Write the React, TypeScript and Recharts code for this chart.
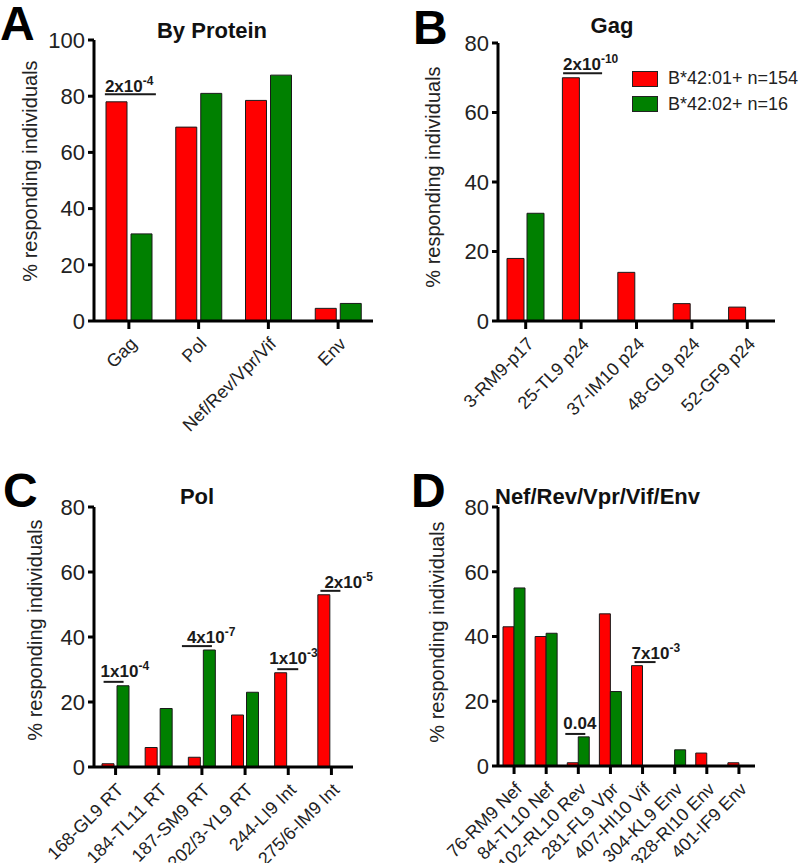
import { Bar, BarChart, Legend, ReferenceDot, XAxis, YAxis } from "recharts";

const FONT = '"Liberation Sans", Arial, Helvetica, sans-serif';
const RED = "#ff0000";
const GREEN = "#008000";
const INK = "#1a1a1a";

const SERIES_01 = "B*42:01+ n=154";
const SERIES_02 = "B*42:02+ n=16";

// A: by protein
const proteinCats = ["Gag", "Pol", "Nef/Rev/Vpr/Vif", "Env"];
const proteinB4201 = [78, 69, 78.5, 4.5];
const proteinB4202 = [31, 81, 87.5, 6.25];

// B: Gag epitopes
const gagCats = ["3-RM9-p17", "25-TL9 p24", "37-IM10 p24", "48-GL9 p24", "52-GF9 p24"];
const gagB4201 = [18, 70, 14, 5, 4];
const gagB4202 = [31, 0, 0, 0, 0];

// C: Pol epitopes
const polCats = ["168-GL9 RT", "184-TL11 RT", "187-SM9 RT", "202/3-YL9 RT", "244-LI9 Int", "275/6-IM9 Int"];
const polB4201 = [1, 6, 3, 16, 29, 53];
const polB4202 = [25, 18, 36, 23, 0, 0];

// D: accessory + Env epitopes
const accCats = [
	"76-RM9 Nef",
	"84-TL10 Nef",
	"102-RL10 Rev",
	"281-FL9 Vpr",
	"407-HI10 Vif",
	"304-KL9 Env",
	"328-RI10 Env",
	"401-IF9 Env",
];
const accB4201 = [43, 40, 1, 47, 31, 0, 4, 1];
const accB4202 = [55, 41, 9, 23, 0, 5, 0, 0];

const ticks100 = [0, 20, 40, 60, 80, 100];
const ticks80 = [0, 20, 40, 60, 80];

interface PValue {
	cat: string;
	y: number;
	text: string;
	exp?: string;
	x0: number;
	x1: number;
	tx: number;
	dy: number;
}

const pProtein: PValue[] = [{ cat: "Gag", y: 80.7, text: "2x10", exp: "-4", x0: -24, x1: 27, tx: -24, dy: 2 }];
const pGag: PValue[] = [{ cat: "25-TL9 p24", y: 71.3, text: "2x10", exp: "-10", x0: -18, x1: 21, tx: -18, dy: 3 }];
const pPol: PValue[] = [
	{ cat: "168-GL9 RT", y: 26.2, text: "1x10", exp: "-4", x0: -12, x1: 8, tx: -15, dy: 5 },
	{ cat: "187-SM9 RT", y: 37.2, text: "4x10", exp: "-7", x0: -20, x1: 10, tx: -15, dy: 3 },
	{ cat: "244-LI9 Int", y: 30.1, text: "1x10", exp: "-3", x0: -11, x1: 10, tx: -19, dy: 5 },
	{ cat: "275/6-IM9 Int", y: 54.2, text: "2x10", exp: "-5", x0: -11, x1: 9, tx: -7, dy: 3 },
];
const pAcc: PValue[] = [
	{ cat: "102-RL10 Rev", y: 9.9, text: "0.04", x0: -13, x1: 7, tx: -15, dy: 5 },
	{ cat: "407-HI10 Vif", y: 32.1, text: "7x10", exp: "-3", x0: -8, x1: 13, tx: -11, dy: 3 },
];

const toRows = (cats: string[], a: number[], b: number[]) =>
	cats.map((name, i) => ({ name, b01: a[i], b02: b[i] }));

function PMark({ cx, cy, p }: { cx: number; cy: number; p: PValue }) {
	return (
		<g>
			<line x1={cx + p.x0} x2={cx + p.x1} y1={cy} y2={cy} stroke={INK} strokeWidth={2} />
			<text x={cx + p.tx} y={cy - p.dy} fontFamily={FONT} fontWeight="bold" fontSize={17} fill={INK}>
				{p.text}
				{p.exp && (
					<tspan fontSize={12} dy={-7}>
						{p.exp}
					</tspan>
				)}
			</text>
		</g>
	);
}

function LegendBox({ payload }: { payload?: any[] }) {
	return (
		<div style={{ fontFamily: FONT, fontSize: 18, color: "#222" }}>
			{(payload ?? []).map((e) => (
				<div key={e.value} style={{ display: "flex", alignItems: "center", height: 25.5, whiteSpace: "nowrap" }}>
					<span
						style={{
							display: "inline-block",
							width: 26,
							height: 16,
							background: e.color,
							border: "1px solid #222",
							boxSizing: "border-box",
							marginRight: 10,
							flexShrink: 0,
						}}
					/>
					{e.value}
				</div>
			))}
		</div>
	);
}

interface PanelProps {
	rows: { name: string; b01: number; b02: number }[];
	width: number;
	height: number;
	top: number;
	right: number;
	yWidth: number;
	xHeight: number;
	max: number;
	ticks: number[];
	barSize: number;
	barGap: number;
	pvalues: PValue[];
	legend?: boolean;
}

function Panel(props: PanelProps) {
	const axisStyle = { stroke: "#000", strokeWidth: 3 };
	return (
		<BarChart
			width={props.width}
			height={props.height}
			data={props.rows}
			margin={{ top: props.top, right: props.right, left: 0, bottom: 0 }}
			barSize={props.barSize}
			barGap={props.barGap}
		>
			<XAxis
				dataKey="name"
				height={props.xHeight}
				interval={0}
				angle={-45}
				textAnchor="end"
				tickSize={8}
				tickMargin={7}
				axisLine={axisStyle}
				tickLine={axisStyle}
				tick={{ fontSize: 18, fill: "#222", fontFamily: FONT }}
			/>
			<YAxis
				width={props.yWidth}
				domain={[0, props.max]}
				ticks={props.ticks}
				interval={0}
				tickSize={6}
				tickMargin={3}
				axisLine={axisStyle}
				tickLine={axisStyle}
				tick={{ fontSize: 22, fill: "#222", fontFamily: FONT }}
			/>
			<Bar dataKey="b01" name={SERIES_01} fill={RED} stroke={INK} strokeWidth={1} isAnimationActive={false} />
			<Bar dataKey="b02" name={SERIES_02} fill={GREEN} stroke={INK} strokeWidth={1} isAnimationActive={false} />
			{props.pvalues.map((p) => (
				<ReferenceDot
					key={p.cat}
					x={p.cat}
					y={p.y}
					r={0}
					shape={(s: any) => <PMark cx={s.cx} cy={s.cy} p={p} />}
				/>
			))}
			{props.legend && (
				<Legend
					layout="horizontal"
					align="center"
					verticalAlign="middle"
					wrapperStyle={{ left: 232, top: 66, right: "auto", bottom: "auto", width: 240 }}
					content={(lp: any) => <LegendBox payload={lp.payload} />}
				/>
			)}
		</BarChart>
	);
}

const yLabel = "% responding individuals";

export default function App() {
	return (
		<div style={{ position: "absolute", left: 0, top: 0, width: 800, height: 863, background: "#fff", overflow: "hidden" }}>
			<style>{".recharts-surface{overflow:visible}"}</style>
			<div style={{ position: "absolute", left: 0, top: 0 }}>
				<Panel
					rows={toRows(proteinCats, proteinB4201, proteinB4202)}
					width={400}
					height={430}
					top={40}
					right={27}
					yWidth={94}
					xHeight={109}
					max={100}
					ticks={ticks100}
					barSize={21}
					barGap={4}
					pvalues={pProtein}
				/>
			</div>
			<div style={{ position: "absolute", left: 400, top: 0 }}>
				<Panel
					rows={toRows(gagCats, gagB4201, gagB4202)}
					width={400}
					height={430}
					top={43}
					right={25}
					yWidth={98}
					xHeight={109}
					max={80}
					ticks={ticks80}
					barSize={17}
					barGap={3}
					pvalues={pGag}
					legend
				/>
			</div>
			<div style={{ position: "absolute", left: 0, top: 430 }}>
				<Panel
					rows={toRows(polCats, polB4201, polB4202)}
					width={400}
					height={433}
					top={77}
					right={47}
					yWidth={94}
					xHeight={96}
					max={80}
					ticks={ticks80}
					barSize={12}
					barGap={3}
					pvalues={pPol}
				/>
			</div>
			<div style={{ position: "absolute", left: 400, top: 430 }}>
				<Panel
					rows={toRows(accCats, accB4201, accB4202)}
					width={400}
					height={433}
					top={77}
					right={45}
					yWidth={98}
					xHeight={97}
					max={80}
					ticks={ticks80}
					barSize={11}
					barGap={0}
					pvalues={pAcc}
				/>
			</div>
			<svg
				width={800}
				height={863}
				style={{ position: "absolute", left: 0, top: 0, pointerEvents: "none" }}
				fontFamily={FONT}
			>
				<g fontSize={48} fontWeight="bold" fill="#000">
					<text x={0} y={40}>A</text>
					<text x={413} y={44}>B</text>
					<text x={3} y={507}>C</text>
					<text x={411} y={507}>D</text>
				</g>
				<g fontSize={22} fontWeight="bold" fill="#111">
					<text x={212} y={38} textAnchor="middle">By Protein</text>
					<text x={612} y={33} textAnchor="middle">Gag</text>
					<text x={197} y={504} textAnchor="middle">Pol</text>
					<text x={495} y={504}>Nef/Rev/Vpr/Vif/Env</text>
				</g>
				<g fontSize={20} fill="#222" textAnchor="middle" dominantBaseline="central">
					<text x={30} y={171} transform="rotate(-90 30 171)">{yLabel}</text>
					<text x={433} y={177} transform="rotate(-90 433 177)">{yLabel}</text>
					<text x={35} y={630} transform="rotate(-90 35 630)">{yLabel}</text>
					<text x={437} y={632} transform="rotate(-90 437 632)">{yLabel}</text>
				</g>
			</svg>
		</div>
	);
}
